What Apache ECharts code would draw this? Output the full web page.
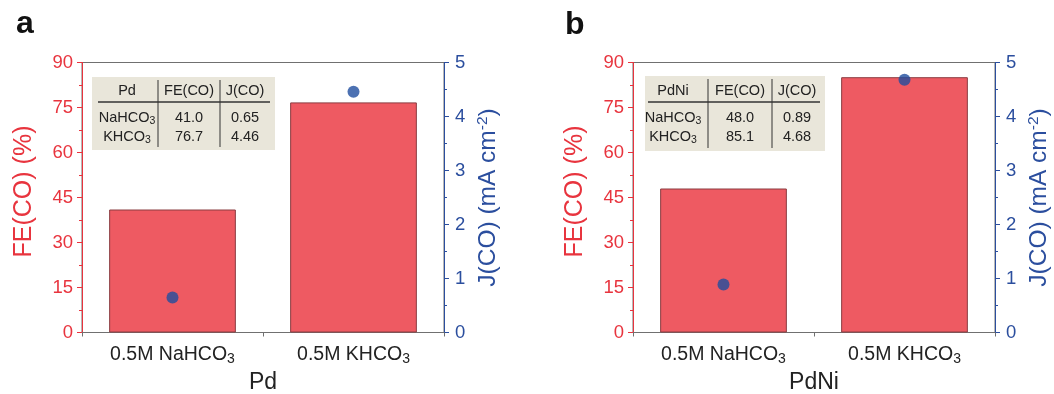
<!DOCTYPE html>
<html><head><meta charset="utf-8">
<script src="https://cdn.jsdelivr.net/npm/echarts@6/dist/echarts.min.js"></script>
<style>html,body{margin:0;padding:0;background:#fff}#c{width:1054px;height:394px}</style>
</head><body><div id="c"></div>
<script>
// ---- data ----
const categories = ['0.5M NaHCO{s|3}', '0.5M KHCO{s|3}'];
const tableRows = ['NaHCO{s|3}', 'KHCO{s|3}'];
const panelNames = ['Pd', 'PdNi'];
const panelLetters = ['a', 'b'];
const pdFE = [41.0, 76.7];
const pdJ = [0.65, 4.46];
const pdniFE = [48.0, 85.1];
const pdniJ = [0.89, 4.68];
const feAxis = {min: 0, max: 90, interval: 15};
const jAxis = {min: 0, max: 5, interval: 1};

// ---- style ----
const FONT = 'Arial, "Liberation Sans", sans-serif';
const RED = '#E8343E';
const BLUE = '#2B4E9E';
const BAR = '#EE5A62';
const DOT = '#1F4E9F';
const GREY = '#707070';

const grids = [
  {left: 82, right: 610, top: 62.5, bottom: 61.5, containLabel: false, outerBoundsMode: 'none',
   show: true, borderColor: GREY, borderWidth: 1, backgroundColor: 'transparent'},
  {left: 633, right: 59, top: 62.5, bottom: 61.5, containLabel: false, outerBoundsMode: 'none',
   show: true, borderColor: GREY, borderWidth: 1, backgroundColor: 'transparent'}
];

const xAxes = [], yAxes = [], series = [];
const feData = [pdFE, pdniFE], jData = [pdJ, pdniJ];
[0, 1].forEach(g => {
  xAxes.push({
    type: 'category', gridIndex: g, data: categories,
    axisLine: {lineStyle: {color: GREY, width: 1}},
    axisTick: {alignWithLabel: true, length: 5, lineStyle: {color: GREY}},
    axisLabel: {interval: 0, hideOverlap: false, color: '#222', fontSize: 19.5, fontFamily: FONT, margin: 10,
      rich: {s: {fontSize: 14, fontFamily: FONT, color: '#222', padding: [10, 0, 0, 0], verticalAlign: 'bottom'}}},
    name: panelNames[g], nameLocation: 'middle', nameGap: 39,
    nameTextStyle: {color: '#222', fontSize: 23, fontFamily: FONT}
  });
  xAxes.push({
    type: 'category', gridIndex: g, data: categories, position: 'bottom',
    axisLine: {show: false},
    axisTick: {show: true, length: 4, lineStyle: {color: GREY}},
    axisLabel: {show: false}
  });
  yAxes.push({
    type: 'value', gridIndex: g, position: 'left', min: feAxis.min, max: feAxis.max, interval: feAxis.interval,
    axisLine: {show: true, lineStyle: {color: RED, width: 1}},
    axisTick: {show: true, length: 5, lineStyle: {color: RED}},
    minorTick: {show: true, splitNumber: 2, length: 3, lineStyle: {color: RED}},
    splitLine: {show: false},
    axisLabel: {color: RED, fontSize: 18.5, fontFamily: FONT, margin: 9},
    name: 'FE(CO) (%)', nameLocation: 'middle', nameGap: 45,
    nameTextStyle: {color: RED, fontSize: 25, fontFamily: FONT, padding: [0, 0, 0, 12]}
  });
  yAxes.push({
    type: 'value', gridIndex: g, position: 'right', min: jAxis.min, max: jAxis.max, interval: jAxis.interval,
    axisLine: {show: true, lineStyle: {color: BLUE, width: 1}},
    axisTick: {show: true, length: 5, lineStyle: {color: BLUE}},
    minorTick: {show: true, splitNumber: 2, length: 3, lineStyle: {color: BLUE}},
    splitLine: {show: false},
    axisLabel: {color: BLUE, fontSize: 18.5, fontFamily: FONT, margin: 11},
    name: 'J(CO) (mA cm{sup|-2})', nameLocation: 'middle', nameGap: 31,
    nameTextStyle: {color: BLUE, fontSize: 24.5, fontFamily: FONT,
      rich: {sup: {fontSize: 15.5, color: BLUE, fontFamily: FONT, verticalAlign: 'top', padding: [0, 0, 10, 0]}}}
  });
  series.push({
    type: 'bar', xAxisIndex: g * 2, yAxisIndex: g * 2, data: feData[g], barWidth: '70%',
    itemStyle: {color: BAR, borderColor: '#8A3C40', borderWidth: 1}, z: 2
  });
  series.push({
    type: 'scatter', xAxisIndex: g * 2, yAxisIndex: g * 2 + 1, data: jData[g], symbolSize: 12,
    itemStyle: {color: DOT}, z: 5
  });
});

// ---- tables ----
const tables = [
  {x: 92, y: 77, w: 183, h: 73, lineX0: 98, lineX1: 270, v1: 158, v2: 220, c: [127, 189, 245]},
  {x: 645, y: 76, w: 180, h: 75, lineX0: 648, lineX1: 820, v1: 708, v2: 772, c: [673, 740, 797]}
];
const graphic = [];
const subRich = {s: {fontSize: 10.5, fontFamily: FONT, fill: '#222', padding: [7, 0, 0, 0], verticalAlign: 'bottom'}};
const TF = '14.5px ' + FONT;
tables.forEach((t, g) => {
  graphic.push({type: 'rect', shape: {x: t.x, y: t.y, width: t.w, height: t.h}, style: {fill: '#E9E6DA'}, z: 10});
  graphic.push({type: 'line', shape: {x1: t.lineX0, y1: 102, x2: t.lineX1, y2: 102}, style: {stroke: '#333', lineWidth: 1.5}, z: 11});
  graphic.push({type: 'line', shape: {x1: t.v1, y1: t.y + 3, x2: t.v1, y2: t.y + t.h - 3}, style: {stroke: '#333', lineWidth: 1}, z: 11});
  graphic.push({type: 'line', shape: {x1: t.v2, y1: t.y + 3, x2: t.v2, y2: t.y + t.h - 3}, style: {stroke: '#333', lineWidth: 1}, z: 11});
  const hdr = [panelNames[g], 'FE(CO)', 'J(CO)'];
  hdr.forEach((s, i) => graphic.push({type: 'text', x: t.c[i], y: 91, z: 12,
    style: {text: s, fill: '#222', font: TF, align: 'center', verticalAlign: 'middle'}}));
  [118, 136.5].forEach((yy, r) => {
    graphic.push({type: 'text', x: t.c[0], y: yy, z: 12,
      style: {text: tableRows[r], fill: '#222', fontSize: 14.5, fontFamily: FONT, align: 'center', verticalAlign: 'middle', rich: subRich}});
    graphic.push({type: 'text', x: t.c[1], y: yy, z: 12,
      style: {text: feData[g][r].toFixed(1), fill: '#222', font: TF, align: 'center', verticalAlign: 'middle'}});
    graphic.push({type: 'text', x: t.c[2], y: yy, z: 12,
      style: {text: jData[g][r].toFixed(2), fill: '#222', font: TF, align: 'center', verticalAlign: 'middle'}});
  });
});
graphic.push({type: 'text', x: 16, y: 8, style: {text: panelLetters[0], fill: '#111', font: 'bold 32px ' + FONT}});
graphic.push({type: 'text', x: 565, y: 9, style: {text: panelLetters[1], fill: '#111', font: 'bold 32px ' + FONT}});

const chart = echarts.init(document.getElementById('c'), null, {renderer: 'canvas'});
chart.setOption({
  animation: false,
  backgroundColor: '#fff',
  textStyle: {fontFamily: FONT},
  grid: grids, xAxis: xAxes, yAxis: yAxes, series: series, graphic: graphic
});
</script></body></html>
